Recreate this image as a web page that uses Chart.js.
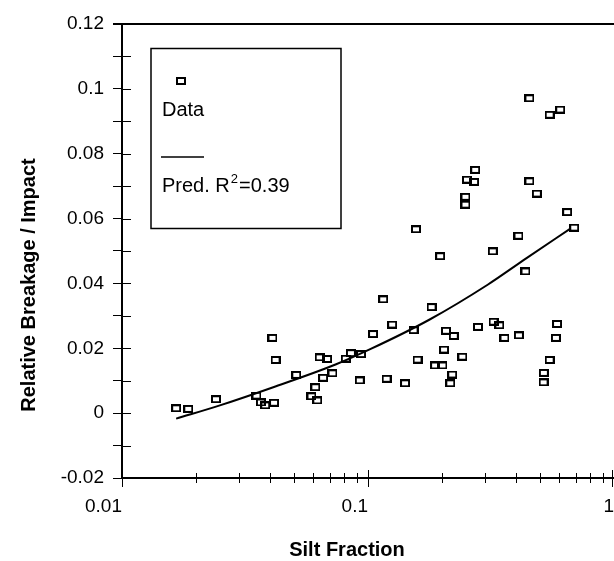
<!DOCTYPE html>
<html><head><meta charset="utf-8">
<script src="https://cdn.jsdelivr.net/npm/chart.js@4.4.0/dist/chart.umd.min.js"></script>
<style>html,body{margin:0;padding:0;background:#fff;}#wrap{width:614px;height:561px;}</style>
</head><body><div id="wrap"><canvas id="c" width="614" height="561"></canvas></div>
<script>
const silt = [0.0166,0.0186,0.0241,0.0352,0.0367,0.0382,0.0415,0.0409,0.0421,0.0511,
  0.0589,0.0611,0.0622,0.0636,0.0682,0.0657,0.0717,0.0812,0.0852,0.0937,
  0.0926,0.1048,0.1153,0.119,0.1254,0.1414,0.1532,0.1567,0.159,0.1813,
  0.1874,0.2008,0.1965,0.2037,0.2075,0.2232,0.216,0.22,0.2418,0.249,
  0.249,0.2526,0.27,0.2728,0.2799,0.3215,0.3238,0.342,0.3587,0.409,
  0.4105,0.4367,0.453,0.453,0.4856,0.5185,0.5173,0.5477,0.5477,0.6044,
  0.5868,0.5805,0.6452,0.6891];
const breakage = [0.0015,0.0013,0.0043,0.0054,0.0033,0.0024,0.0032,0.0232,0.0164,0.0118,
  0.0052,0.0080,0.0039,0.0172,0.0167,0.0109,0.0123,0.0168,0.0185,0.0182,
  0.0101,0.0244,0.0351,0.0106,0.0273,0.0092,0.0256,0.0567,0.0165,0.0327,
  0.0147,0.0147,0.0484,0.0196,0.0254,0.0238,0.0092,0.0119,0.0174,0.0643,
  0.0667,0.0720,0.0713,0.0750,0.0266,0.0499,0.0282,0.0271,0.0232,0.0547,
  0.0240,0.0437,0.0971,0.0715,0.0677,0.0124,0.0095,0.0920,0.0164,0.0936,
  0.0275,0.0232,0.0620,0.0572];
const predSilt  = [0.0166,0.025,0.0412,0.0738,0.1026,0.1774,0.3065,0.4411,0.6671];
const predValue = [-0.0017,0.0024,0.0080,0.0150,0.0198,0.0288,0.0396,0.0478,0.0570];

const yTickMarks  = [-0.02,-0.01,0,0.01,0.02,0.03,0.04,0.05,0.06,0.07,0.08,0.09,0.1,0.11,0.12];
const yTickValues = [-0.02,0,0.02,0.04,0.06,0.08,0.1,0.12];
const yTickLabels = ['-0.02','0','0.02','0.04','0.06','0.08','0.1','0.12'];
const xTickMarks  = [0.01,0.02,0.03,0.04,0.05,0.06,0.07,0.08,0.09,0.1,0.2,0.3,0.4,0.5,0.6,0.7,0.8,0.9,1];
const xTickValues = [0.01,0.1,1];
const xTickLabels = ['0.01','0.1','1'];
const dataLabel = 'Data';
const predLabel = ['Pred. R','2','=0.39'];
const xTitle = 'Silt Fraction';
const yTitle = 'Relative Breakage / Impact';

const FONT = '"Liberation Sans", Arial, Helvetica, sans-serif';

function markerCanvas(){
  const c = document.createElement('canvas');
  c.width = 10; c.height = 8;
  const g = c.getContext('2d');
  g.strokeStyle = '#000'; g.lineWidth = 2;
  g.strokeRect(1,1,8,6);
  return c;
}
const marker = markerCanvas();

function findLabel(v, vals, labs){
  for (let i=0;i<vals.length;i++){ if (Math.abs(vals[i]-v) < 1e-9) return labs[i]; }
  return '';
}

const decor = {
  id:'decor',
  afterDraw(chart){
    const ctx = chart.ctx, a = chart.chartArea;
    const xs = chart.scales.x, ys = chart.scales.y;
    ctx.save();
    ctx.strokeStyle = '#000';
    // top border
    ctx.lineWidth = 2;
    ctx.beginPath(); ctx.moveTo(a.left-9, a.top); ctx.lineTo(614, a.top); ctx.stroke();
    // inner tick parts
    ctx.lineWidth = 1;
    ys.ticks.forEach(t=>{
      const y = Math.round(ys.getPixelForValue(t.value))+0.5;
      ctx.beginPath(); ctx.moveTo(a.left, y); ctx.lineTo(a.left+9, y); ctx.stroke();
    });
    xs.ticks.forEach(t=>{
      let x = Math.round(xs.getPixelForValue(t.value))+0.5;
      if (x > 613) x = 612.5;
      const major = xTickValues.some(v=>Math.abs(v-t.value)<1e-9);
      ctx.beginPath(); ctx.moveTo(x, a.bottom-(major?8:5)); ctx.lineTo(x, a.bottom+(major?9:5)); ctx.stroke();
    });
    // legend box
    ctx.lineWidth = 1.5;
    ctx.strokeRect(151, 48.5, 190, 180);
    ctx.drawImage(marker, 176, 77);
    ctx.fillStyle = '#000';
    ctx.font = '20px ' + FONT;
    ctx.textBaseline = 'middle'; ctx.textAlign = 'left';
    ctx.fillText(dataLabel, 162, 110);
    ctx.lineWidth = 1.5;
    ctx.beginPath(); ctx.moveTo(161, 157); ctx.lineTo(204, 157); ctx.stroke();
    let x = 162;
    ctx.fillText(predLabel[0], x, 186); x += ctx.measureText(predLabel[0]).width + 1;
    ctx.font = '13px ' + FONT;
    ctx.fillText(predLabel[1], x, 179); x += ctx.measureText(predLabel[1]).width + 1;
    ctx.font = '20px ' + FONT;
    ctx.fillText(predLabel[2], x, 186);
    // titles
    ctx.font = 'bold 20px ' + FONT;
    ctx.textAlign = 'center';
    ctx.fillText(xTitle, 347, 550);
    ctx.translate(29, 285); ctx.rotate(-Math.PI/2);
    ctx.fillText(yTitle, 0, 0);
    ctx.restore();
  }
};

new Chart(document.getElementById('c'), {
  type:'scatter',
  data:{
    datasets:[
      {label:dataLabel, data: silt.map((s,i)=>({x:s,y:breakage[i]})),
       pointStyle: marker, pointRadius:5, showLine:false},
      {label:'Pred', data: predSilt.map((s,i)=>({x:s,y:predValue[i]})),
       showLine:true, pointRadius:0, borderColor:'#000', borderWidth:2,
       cubicInterpolationMode:'monotone', fill:false}
    ]
  },
  options:{
    responsive:false, devicePixelRatio:1, animation:false,
    layout:{autoPadding:false, padding:{top:24,left:0,right:0,bottom:0}},
    plugins:{legend:{display:false}, tooltip:{enabled:false}},
    scales:{
      x:{type:'logarithmic', min:0.01, max:1,
        afterBuildTicks(s){ s.ticks = xTickMarks.map(v=>({value:v, major: xTickValues.includes(v)})); },
        afterFit(s){ s.height = 83; s.paddingRight = 0; },
        border:{display:true, color:'#000', width:2},
        grid:{display:true, drawOnChartArea:false, drawTicks:true, tickLength:17, color:'rgba(0,0,0,0)', lineWidth:1},
        ticks:{autoSkip:false, maxRotation:0, minRotation:0, align:'end', padding:0, color:'#000',
          font:{family:FONT, size:19},
          callback:(v)=>findLabel(v, xTickValues, xTickLabels)}
      },
      y:{type:'linear', min:-0.02, max:0.12,
        afterBuildTicks(s){ s.ticks = yTickMarks.map(v=>({value:v})); },
        afterFit(s){ s.width = 122; },
        border:{display:true, color:'#000', width:2},
        grid:{display:true, drawOnChartArea:false, drawTicks:true, tickLength:9, color:'#000', lineWidth:1},
        ticks:{autoSkip:false, padding:9, color:'#000', font:{family:FONT, size:19},
          callback:(v)=>findLabel(v, yTickValues, yTickLabels)}
      }
    }
  },
  plugins:[decor]
});
</script></body></html>
